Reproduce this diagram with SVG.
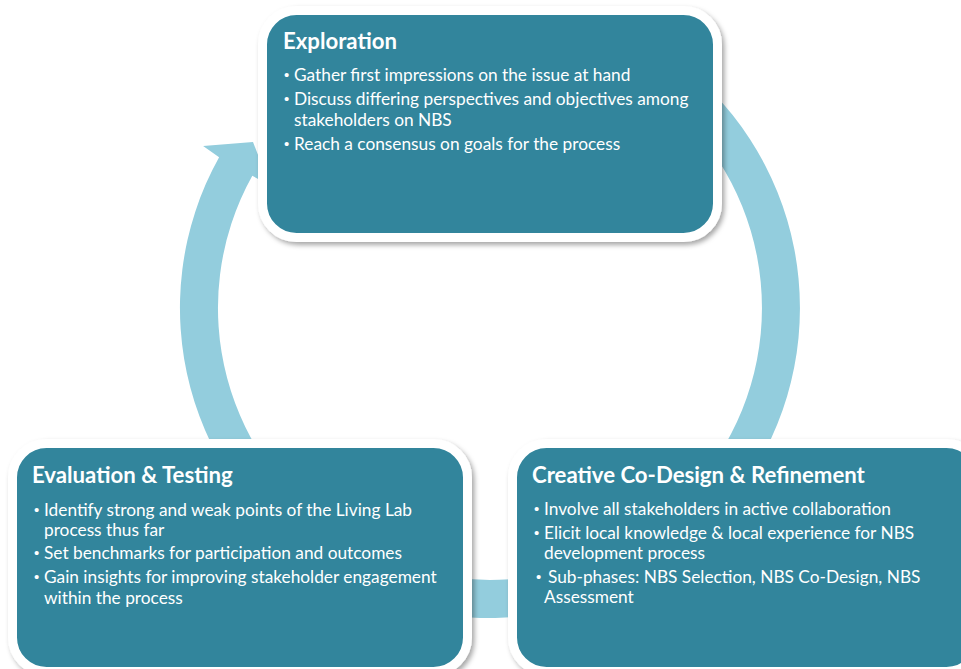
<svg xmlns="http://www.w3.org/2000/svg" width="961" height="669" viewBox="0 0 961 669">
<defs>
<filter id="sh" x="-10%" y="-10%" width="120%" height="125%">
<feDropShadow dx="2.5" dy="3" stdDeviation="2.5" flood-color="#000" flood-opacity="0.35"/>
</filter>
<style>
.box{fill:#31859C;stroke:#FFFFFF;stroke-width:9;filter:url(#sh)}
.ring{fill:#93CDDD}
.t{font-family:Lato,"Open Sans","Liberation Sans",sans-serif;fill:#FFFFFF}
.h{font-size:22.2px;font-weight:bold}
.b{font-size:17.3px}
.d{font-family:"Liberation Sans",sans-serif;font-size:15px;fill:#FFFFFF}
</style>
</defs>
<rect width="961" height="669" fill="#FFFFFF"/>
<g id="connectors">
<path class="ring" d="M667.8,54.1 A310,310 0 1 1 219.1,157.2 L203.1,146 L253,142 L269.8,185.5 L252.3,175.7 A272,272 0 1 0 646,85.2 Z"/>
</g>
<g id="exploration">
<rect class="box" x="262.5" y="10.5" width="455" height="227" rx="34"/>
<text class="t h" x="283" y="49">Exploration</text>
<text class="d" x="284" y="80">•</text>
<text class="t b" x="294" y="81">Gather first impressions on the issue at hand</text>
<text class="d" x="284" y="104">•</text>
<text class="t b" x="294" y="105">Discuss differing perspectives and objectives among</text>
<text class="t b" x="294" y="126">stakeholders on NBS</text>
<text class="d" x="284" y="149">•</text>
<text class="t b" x="294" y="150">Reach a consensus on goals for the process</text>
</g>
<g id="evaluation">
<rect class="box" x="12.5" y="443.5" width="455" height="228" rx="34"/>
<text class="t h" x="32" y="483">Evaluation &amp; Testing</text>
<text class="d" x="34" y="515">•</text>
<text class="t b" x="44" y="516">Identify strong and weak points of the Living Lab</text>
<text class="t b" x="44" y="536">process thus far</text>
<text class="d" x="34" y="558">•</text>
<text class="t b" x="44" y="559">Set benchmarks for participation and outcomes</text>
<text class="d" x="34" y="582">•</text>
<text class="t b" x="44" y="583">Gain insights for improving stakeholder engagement</text>
<text class="t b" x="44" y="604">within the process</text>
</g>
<g id="codesign">
<rect class="box" x="512.5" y="443.5" width="468" height="228" rx="34"/>
<text class="t h" x="532" y="483">Creative Co-Design &amp; Refinement</text>
<text class="d" x="534" y="514">•</text>
<text class="t b" x="544" y="515">Involve all stakeholders in active collaboration</text>
<text class="d" x="534" y="538">•</text>
<text class="t b" x="544" y="539">Elicit local knowledge &amp; local experience for NBS</text>
<text class="t b" x="544" y="559">development process</text>
<text class="d" x="536" y="582">•</text>
<text class="t b" x="548" y="583">Sub-phases: NBS Selection, NBS Co-Design, NBS</text>
<text class="t b" x="544" y="603">Assessment</text>
</g>
</svg>
